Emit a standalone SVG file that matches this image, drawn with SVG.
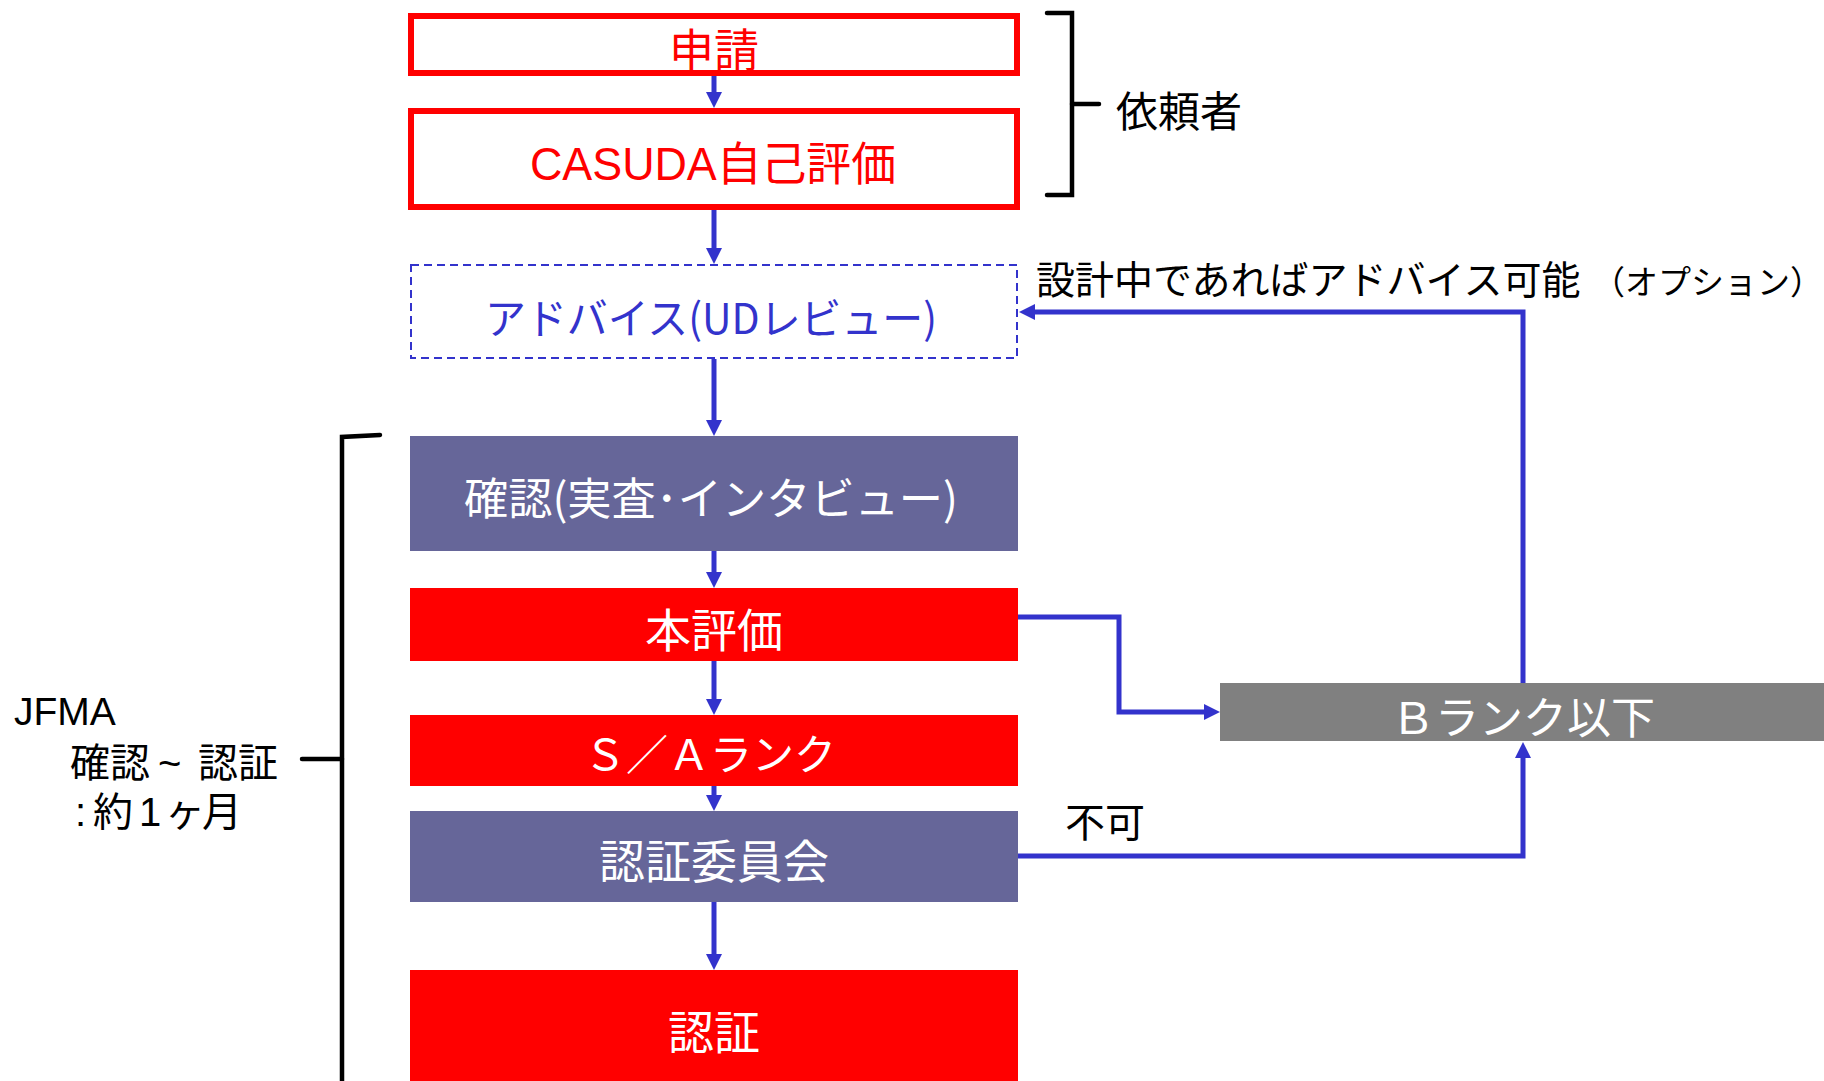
<svg xmlns="http://www.w3.org/2000/svg" width="1824" height="1081" viewBox="0 0 1824 1081">
<style>
text{font-family:"Noto Sans CJK JP","Noto Sans",sans-serif;}
.lat{font-family:"Liberation Sans","Noto Sans CJK JP",sans-serif;}
.w{fill:#FFFFFF;}
.r{fill:#FF0000;}
.b{fill:#3333CC;}
.k{fill:#000000;}
.red{fill:#FF0000;}
.pur{fill:#666699;}
.gry{fill:#808080;}
.con{fill:none;stroke:#3333CC;stroke-width:5;marker-end:url(#ah);}
.brk{fill:none;stroke:#000000;stroke-width:4.5;stroke-linecap:round;stroke-linejoin:miter;}
</style>
<defs>
<marker id="ah" markerUnits="userSpaceOnUse" markerWidth="16" markerHeight="16" refX="0" refY="8" orient="auto" overflow="visible">
<path d="M0,0 L16,8 L0,16 z" fill="#3333CC"/>
</marker>
</defs>
<rect width="1824" height="1081" fill="#FFFFFF"/>

<g id="connectors">
<path class="con" d="M714,76 L714,92"/>
<path class="con" d="M714,210 L714,248"/>
<path class="con" d="M714,359 L714,420"/>
<path class="con" d="M714,551 L714,572"/>
<path class="con" d="M714,661 L714,699"/>
<path class="con" d="M714,786 L714,795"/>
<path class="con" d="M714,902 L714,954"/>
<path class="con" d="M1018,617 L1119,617 L1119,712 L1204,712"/>
<path class="con" d="M1523,683 L1523,312 L1035,312"/>
<path class="con" d="M1018,856 L1523,856 L1523,758"/>
</g>

<g id="n-shinsei">
<rect x="411" y="16" width="606" height="57" fill="#FFFFFF" stroke="#FF0000" stroke-width="6"/>
<text class="r" x="714" y="67" font-size="45" text-anchor="middle">申請</text>
</g>

<g id="n-casuda">
<rect x="411" y="111" width="606" height="96" fill="#FFFFFF" stroke="#FF0000" stroke-width="6"/>
<text class="r lat" x="713" y="180" font-size="46" text-anchor="middle" textLength="366" lengthAdjust="spacingAndGlyphs">CASUDA自己評価</text>
</g>

<g id="n-advice">
<rect x="411" y="265" width="606" height="93" fill="#FFFFFF" stroke="#3333CC" stroke-width="2" stroke-dasharray="8 5"/>
<text class="b" x="711" y="334" font-size="42" text-anchor="middle" textLength="452" lengthAdjust="spacingAndGlyphs">アドバイス(UDレビュー)</text>
</g>

<g id="n-kakunin">
<rect class="pur" x="410" y="436" width="608" height="115"/>
<text class="w" x="711" y="515" font-size="44" text-anchor="middle" textLength="494" lengthAdjust="spacingAndGlyphs">確認(実査･インタビュー)</text>
</g>

<g id="n-honhyoka">
<rect class="red" x="410" y="588" width="608" height="73"/>
<text class="w" x="714" y="647" font-size="46" text-anchor="middle">本評価</text>
</g>

<g id="n-sa">
<rect class="red" x="410" y="715" width="608" height="71"/>
<text class="w" x="710" y="770" font-size="42" text-anchor="middle">Ｓ／Ａランク</text>
</g>

<g id="n-iinkai">
<rect class="pur" x="410" y="811" width="608" height="91"/>
<text class="w" x="714" y="878" font-size="46" text-anchor="middle">認証委員会</text>
</g>

<g id="n-ninsho">
<rect class="red" x="410" y="970" width="608" height="111"/>
<text class="w" x="714" y="1049" font-size="46" text-anchor="middle">認証</text>
</g>

<g id="n-brank">
<rect class="gry" x="1220" y="683" width="604" height="58"/>
<text class="w" x="1523" y="734" font-size="44" text-anchor="middle">Ｂランク以下</text>
</g>

<g id="brackets">
<path class="brk" d="M1047,13 L1072,13 L1072,195 L1047,195"/>
<path class="brk" d="M1072,104 L1099,104"/>
<path class="brk" d="M380,435 L342,437 L342,1085"/>
<path class="brk" d="M302,759 L342,759"/>
</g>

<g id="labels">
<text id="lbl-irai" class="k" x="1116" y="127" font-size="42">依頼者</text>
<text id="lbl-option" class="k" y="294"><tspan x="1036" font-size="39">設計中であればアドバイス可能</tspan><tspan x="1592" font-size="33">（オプション）</tspan></text>
<text id="lbl-fuka" class="k" x="1065" y="837" font-size="40">不可</text>
<text id="lbl-jfma" class="k" font-size="40"><tspan class="lat" x="14" y="725" font-size="39">JFMA</tspan><tspan x="70" y="777">確認</tspan><tspan class="lat" x="158" y="777">~</tspan><tspan x="198" y="777">認証</tspan><tspan class="lat" x="75" y="826">:</tspan><tspan x="93" y="826">約</tspan><tspan class="lat" x="139" y="826">1</tspan><tspan x="165" y="826">ヶ</tspan><tspan x="202" y="826">月</tspan></text>
</g>
</svg>
